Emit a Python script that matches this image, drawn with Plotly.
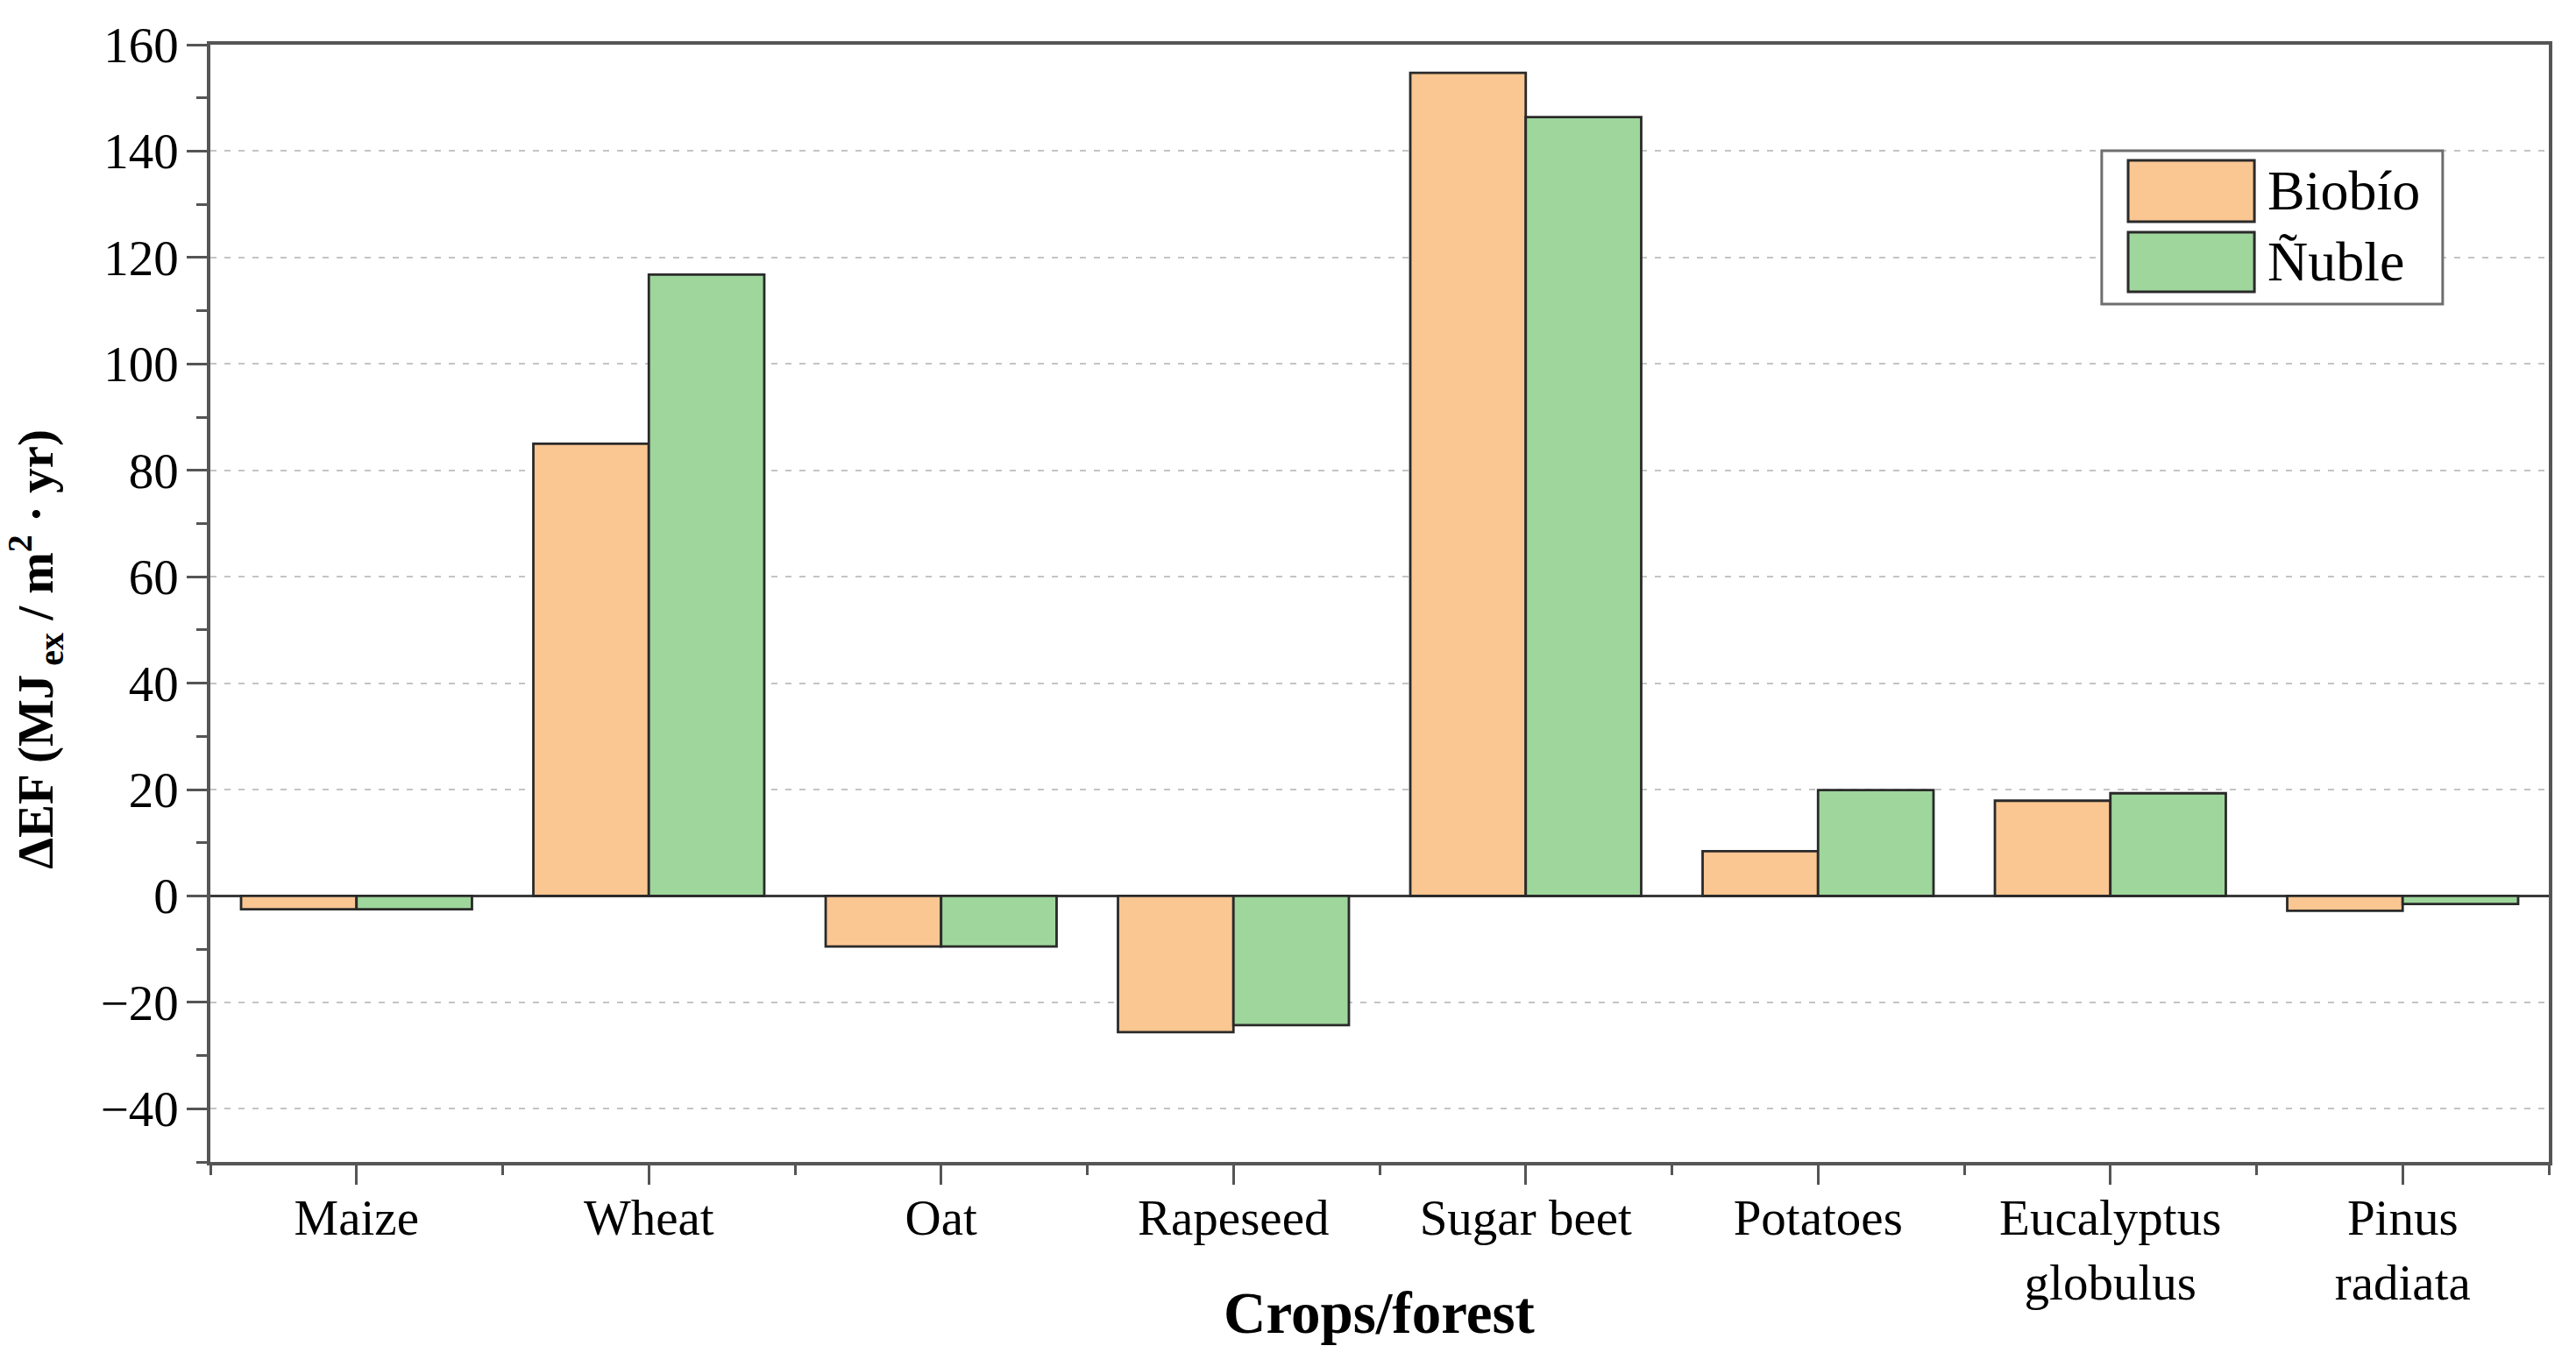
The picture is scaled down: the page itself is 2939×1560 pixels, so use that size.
import numpy as np
import plotly.graph_objects as go

categories = ["Maize", "Wheat", "Oat", "Rapeseed", "Sugar beet", "Potatoes",
              "Eucalyptus<br>globulus", "Pinus<br>radiata"]
biobio = [-2.5, 85.0, -9.5, -25.6, 154.7, 8.4, 17.9, -2.8]
nuble = [-2.5, 116.8, -9.5, -24.3, 146.4, 19.9, 19.3, -1.5]
series_names = ["Biobío", "Ñuble"]
y_ticks = [-40, -20, 0, 20, 40, 60, 80, 100, 120, 140, 160]

color_biobio = "#FAC692"
color_nuble = "#9FD69C"
outline = "#2A2A2A"
axis_color = "#555555"
font_family = "Liberation Serif"

x = np.arange(len(categories))

fig = go.Figure()
for name, vals, col in [(series_names[0], biobio, color_biobio),
                        (series_names[1], nuble, color_nuble)]:
    fig.add_trace(go.Bar(
        x=x, y=vals, name=name,
        marker=dict(color=col, line=dict(color=outline, width=2.8)),
        showlegend=False,
    ))

fig.update_layout(
    width=2939, height=1560,
    margin=dict(l=240, r=31, t=51, b=234, autoexpand=False),
    paper_bgcolor="white", plot_bgcolor="white",
    barmode="group", bargap=0.21, bargroupgap=0,
    font=dict(family=font_family, size=58, color="black"),
)

fig.update_xaxes(
    range=[-0.5, len(categories) - 0.5],
    tickvals=x, ticktext=categories,
    ticks="outside", ticklen=22, tickwidth=3, tickcolor=axis_color,
    minor=dict(tick0=-0.5, dtick=1, ticks="outside", ticklen=11,
               tickwidth=3, tickcolor=axis_color, showgrid=False),
    showline=True, linecolor=axis_color, linewidth=3.5, mirror=True,
    showgrid=False, zeroline=False,
    tickfont=dict(family=font_family, size=57, color="black"),
    ticklabelstandoff=-11,
)

fig.update_yaxes(
    range=[-50, 160],
    tickvals=y_ticks,
    tickformat="d",
    ticks="outside", ticklen=23, tickwidth=3, tickcolor=axis_color,
    minor=dict(dtick=10, ticks="outside", ticklen=12, tickwidth=3,
               tickcolor=axis_color, showgrid=False),
    showline=True, linecolor=axis_color, linewidth=3.5, mirror=True,
    showgrid=True, gridcolor="#C4C4C4", gridwidth=2.2, griddash="7px,9px",
    zeroline=True, zerolinecolor="#3A3A3A", zerolinewidth=3,
    tickfont=dict(family=font_family, size=57, color="black"),
    ticklabelstandoff=-2,
)

# y-axis title (annotation so it can sit slightly below centre like the reference)
fig.add_annotation(
    text="<b>ΔEF (MJ<sub> ex</sub> / m<sup>2</sup> · yr)</b>",
    xref="paper", yref="paper", x=-0.0746, y=0.459,
    xanchor="center", yanchor="middle", textangle=-90, showarrow=False,
    font=dict(family=font_family, size=57, color="black"),
)

# x-axis title placed as annotation (sits between two-line tick labels)
fig.add_annotation(
    text="<b>Crops/forest</b>", xref="paper", yref="paper",
    x=0.5, y=-0.135, xanchor="center", yanchor="middle", showarrow=False,
    font=dict(family=font_family, size=67, color="black"),
)

# Legend box drawn with large swatches
fig.add_shape(type="rect", xref="paper", yref="paper",
              x0=0.8088, x1=0.9546, y0=0.7678, y1=0.9051,
              line=dict(color="#6E6E6E", width=3), fillcolor="white", layer="above")
legend_rows = [(series_names[0], color_biobio, 0.8416, 0.8965),
               (series_names[1], color_nuble, 0.7788, 0.8322)]
for name, col, y0, y1 in legend_rows:
    fig.add_shape(type="rect", xref="paper", yref="paper",
                  x0=0.8201, x1=0.8741, y0=y0, y1=y1,
                  line=dict(color=outline, width=3), fillcolor=col, layer="above")
    fig.add_annotation(text=name, xref="paper", yref="paper",
                       x=0.8790, y=(y0 + y1) / 2, xanchor="left", yanchor="middle",
                       showarrow=False,
                       font=dict(family=font_family, size=64, color="black"))

fig.write_html("out.html", config={"displayModeBar": False},
               post_script="document.body.style.margin='0px';")
